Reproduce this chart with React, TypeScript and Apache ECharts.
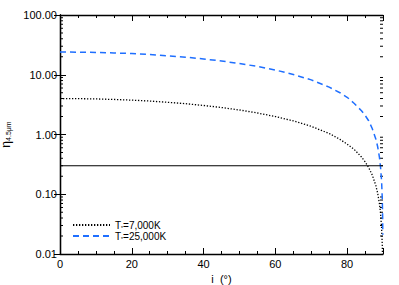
import React, { useEffect, useRef } from "react";
import * as echarts from "echarts";

const angles = [0, 5, 10, 15, 20, 25, 30, 35, 40, 45, 50, 55, 60, 65, 70, 75, 78, 80, 82, 84, 85, 86, 87, 88, 88.5, 89, 89.3, 89.6, 89.8, 89.9, 89.95];
const eta25000 = [24.0, 23.9, 23.6, 23.2, 22.6, 21.8, 20.8, 19.7, 18.4, 17.0, 15.4, 13.8, 12.0, 10.1, 8.2, 6.2, 5.0, 4.2, 3.3, 2.5, 2.1, 1.7, 1.26, 0.84, 0.63, 0.42, 0.29, 0.17, 0.084, 0.042, 0.021];
const eta7000 = [4.0, 3.98, 3.94, 3.86, 3.76, 3.63, 3.46, 3.28, 3.06, 2.83, 2.57, 2.29, 2.0, 1.69, 1.37, 1.04, 0.83, 0.69, 0.56, 0.42, 0.35, 0.28, 0.21, 0.14, 0.105, 0.07, 0.049, 0.028, 0.014, 0.007, 0.0035];
const thresholdX = [0, 90];
const thresholdY = [0.3, 0.3];
const yMinorTicks = [0.02, 0.03, 0.04, 0.05, 0.06, 0.07, 0.08, 0.09, 0.2, 0.3, 0.4, 0.5, 0.6, 0.7, 0.8, 0.9, 2, 3, 4, 5, 6, 7, 8, 9, 20, 30, 40, 50, 60, 70, 80, 90];
const seriesNames = ["7000", "25000"];
const legendLabels: Record<string, string> = { "7000": "7,000K", "25000": "25,000K" };

const FONT = "Liberation Sans";

export default function App() {
  const ref = useRef<HTMLDivElement>(null);
  useEffect(() => {
    if (!ref.current) return;
    const chart = echarts.init(ref.current, null, { renderer: "svg" });
    const tickCommon = {
      axisLine: { show: true, lineStyle: { color: "#000", width: 1.3 } },
      splitLine: { show: false },
    };
    const xBase = {
      type: "value",
      min: 0,
      max: 90,
      interval: 20,
      ...tickCommon,
      axisTick: { show: true, inside: true, length: 6, lineStyle: { color: "#000" } },
      minorTick: { show: true, splitNumber: 4, length: 3, lineStyle: { color: "#000" } },
    };
    const yBase = {
      type: "log",
      logBase: 10,
      min: 0.01,
      max: 100,
      ...tickCommon,
      axisTick: { show: true, inside: true, length: 6, lineStyle: { color: "#000" } },
      minorTick: { show: false },
    };
    const legendBase = (name: string, top: number) => ({
      data: [name],
      orient: "vertical",
      left: 72,
      top,
      itemWidth: 37,
      itemHeight: 7,
      itemGap: 0,
      padding: 0,
      itemStyle: { opacity: 0 },
      textStyle: {
        fontFamily: FONT,
        fontSize: 10,
        color: "#000",
        lineHeight: 10,
        rich: {
          t: { fontFamily: FONT, fontSize: 10, color: "#000", lineHeight: 10 },
          s: { fontFamily: FONT, fontSize: 5, color: "#000", lineHeight: 10, verticalAlign: "bottom" },
        },
      },
      formatter: (n: string) => `{t|T}{s|*}{t|=${legendLabels[n]}}`,
    });
    chart.setOption({
      animation: false,
      backgroundColor: "#fff",
      grid: { left: 60, right: 16, top: 15, bottom: 31, containLabel: false, outerBoundsMode: "none" },
      xAxis: [
        {
          ...xBase,
          position: "bottom",
          name: "i  (°)",
          nameLocation: "middle",
          nameGap: 18,
          nameTextStyle: { fontFamily: FONT, fontSize: 11, color: "#000" },
          axisLabel: {
            fontFamily: FONT,
            fontSize: 11,
            color: "#000",
            margin: 4,
            showMaxLabel: false,
            formatter: (v: number) => (v > 85 ? "" : String(v)),
          },
        },
        { ...xBase, position: "top", axisLabel: { show: false } },
      ],
      yAxis: [
        {
          ...yBase,
          position: "left",
          name: "{a|η}{b|4.5μm}",
          nameLocation: "middle",
          nameRotate: 90,
          nameGap: 34,
          nameTextStyle: {
            fontFamily: FONT,
            color: "#000",
            rich: {
              a: { fontFamily: FONT, fontSize: 12, color: "#000", lineHeight: 14 },
              b: { fontFamily: FONT, fontSize: 7, color: "#000", lineHeight: 14, padding: [6, 0, 0, 0] },
            },
          },
          axisLabel: {
            fontFamily: FONT,
            fontSize: 11,
            color: "#000",
            margin: 3,
            formatter: (v: number) => v.toFixed(2),
          },
        },
        { ...yBase, position: "right", axisLabel: { show: false } },
      ],
      legend: [legendBase(seriesNames[0], 220), legendBase(seriesNames[1], 231)],
      series: [
        {
          name: "7000",
          type: "line",
          data: angles.map((a, i) => [a, eta7000[i]]),
          showSymbol: false,
          symbol: "none",
          smooth: false,
          lineStyle: { color: "#000", width: 1.3, type: [1.3, 1.7] },
          itemStyle: { color: "#000" },
          clip: true,
        },
        {
          name: "25000",
          type: "line",
          data: angles.map((a, i) => [a, eta25000[i]]),
          showSymbol: false,
          symbol: "none",
          lineStyle: { color: "#1f6fff", width: 1.5, type: [6, 4] },
          itemStyle: { color: "#1f6fff" },
          clip: true,
        },
        {
          name: "threshold",
          type: "line",
          data: thresholdX.map((a, i) => [a, thresholdY[i]]),
          showSymbol: false,
          symbol: "none",
          lineStyle: { color: "#000", width: 1.2 },
          silent: true,
        },
        {
          name: "yminor",
          type: "custom",
          silent: true,
          data: yMinorTicks.map((v) => [0, v]),
          encode: { x: 0, y: 1 },
          renderItem: (params: any, api: any) => {
            const v = api.value(1);
            const y = api.coord([0, v])[1];
            const cs = params.coordSys;
            return {
              type: "group",
              children: [
                { type: "line", shape: { x1: cs.x, y1: y, x2: cs.x + 3, y2: y }, style: { stroke: "#000", lineWidth: 1 } },
                { type: "line", shape: { x1: cs.x + cs.width - 3, y1: y, x2: cs.x + cs.width, y2: y }, style: { stroke: "#000", lineWidth: 1 } },
              ],
            };
          },
        },
      ],
    });
    return () => chart.dispose();
  }, []);
  return <div ref={ref} style={{ width: 399, height: 285, position: "absolute", left: 0, top: 0 }} />;
}
